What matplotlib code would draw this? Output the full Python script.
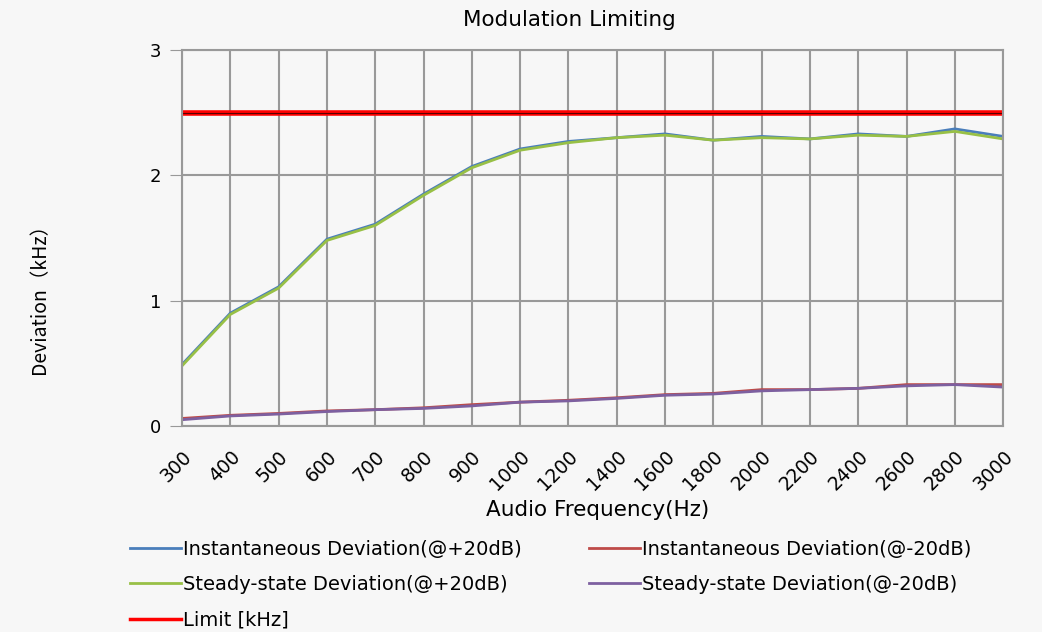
import matplotlib
matplotlib.use('Agg')
import matplotlib.pyplot as plt

plt.rcParams['font.family'] = ['DejaVu Sans', 'Noto Sans CJK SC']

# Data
freqs = ['300', '400', '500', '600', '700', '800', '900', '1000', '1200',
         '1400', '1600', '1800', '2000', '2200', '2400', '2600', '2800', '3000']
inst_pos = [0.49, 0.90, 1.11, 1.49, 1.61, 1.85, 2.07, 2.21, 2.27,
            2.30, 2.33, 2.28, 2.31, 2.29, 2.33, 2.31, 2.37, 2.31]
steady_pos = [0.48, 0.89, 1.10, 1.48, 1.60, 1.84, 2.06, 2.20, 2.26,
              2.30, 2.32, 2.28, 2.30, 2.29, 2.32, 2.31, 2.35, 2.29]
inst_neg = [0.06, 0.085, 0.10, 0.12, 0.13, 0.145, 0.17, 0.19, 0.205,
            0.225, 0.25, 0.26, 0.29, 0.29, 0.30, 0.33, 0.33, 0.33]
steady_neg = [0.05, 0.08, 0.095, 0.115, 0.13, 0.14, 0.16, 0.19, 0.20,
              0.22, 0.245, 0.255, 0.28, 0.29, 0.30, 0.32, 0.33, 0.31]
limit = [2.5] * len(freqs)

fig = plt.figure(figsize=(10.42, 6.32), dpi=100, facecolor='#f7f7f7')
ax = fig.add_axes([0.1747, 0.326, 0.788, 0.595])
ax.set_facecolor('#f7f7f7')

x = list(range(len(freqs)))
l1, = ax.plot(x, inst_pos, color='#4a7ebb', lw=2, label='Instantaneous Deviation(@+20dB)')
l2, = ax.plot(x, steady_pos, color='#98c046', lw=2, label='Steady-state Deviation(@+20dB)')
l3, = ax.plot(x, inst_neg, color='#be4b48', lw=2, label='Instantaneous Deviation(@-20dB)')
l4, = ax.plot(x, steady_neg, color='#7d60a0', lw=2, label='Steady-state Deviation(@-20dB)')
ax.plot(x, limit, color='#ff0000', lw=4)
ax.plot(x, limit, color='#5a0000', lw=0.8)
l5, = ax.plot([], [], color='#ff0000', lw=2.5, label='Limit [kHz]')

ax.set_xlim(0, len(freqs) - 1)
ax.set_ylim(0, 3)
ax.set_yticks([0, 1, 2, 3])
ax.set_xticks(x)
ax.set_xticklabels(freqs, rotation=45, ha='right', rotation_mode='anchor', fontsize=13.5)
ax.tick_params(axis='y', labelsize=13, length=9, color='#999999', direction='out', pad=6)
ax.tick_params(axis='x', length=0, pad=15)
ax.grid(True, color='#999999', lw=1.5)
for s in ax.spines.values():
    s.set_color('#999999')
    s.set_linewidth(1.5)

fig.text(0.546, 0.968, 'Modulation Limiting', fontsize=15.5, ha='center', va='center')
fig.text(0.574, 0.193, 'Audio Frequency(Hz)', fontsize=15.5, ha='center', va='center')
fig.text(0.038, 0.535, 'Deviation（kHz）', fontsize=14, rotation=90, ha='center', va='center',
         family=['Noto Sans CJK SC', 'DejaVu Sans'])

fig.legend(handles=[l1, l2, l5, l3, l4], ncol=2, loc='upper left',
           bbox_to_anchor=(0.108, 0.174), frameon=False, fontsize=14,
           handlelength=2.6, handletextpad=0.1, columnspacing=3.5,
           labelspacing=0.85)

plt.savefig('out.png', dpi=100, facecolor=fig.get_facecolor())
